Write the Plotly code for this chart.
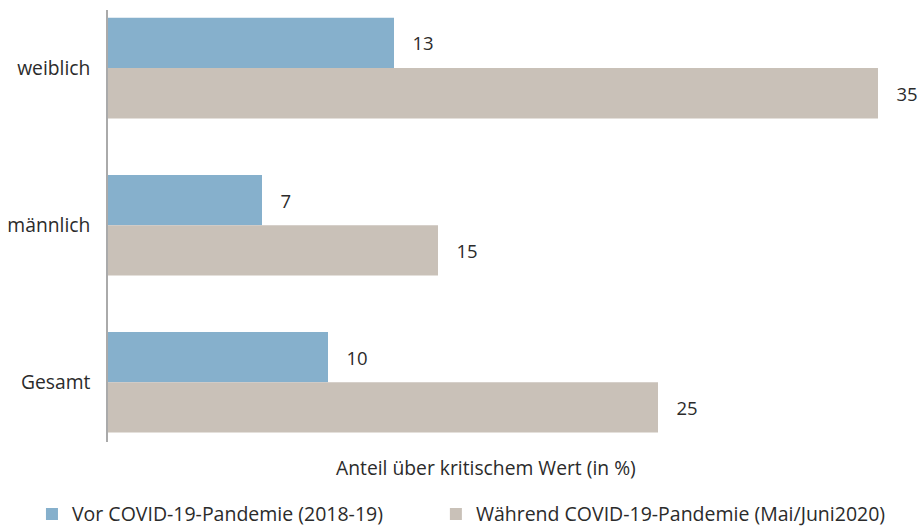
import plotly.graph_objects as go

categories = ["weiblich", "männlich", "Gesamt"]
vor_values = [13, 7, 10]
waehrend_values = [35, 15, 25]
series_names = ["Vor COVID-19-Pandemie (2018-19)", "Während COVID-19-Pandemie (Mai/Juni2020)"]
axis_title = "Anteil über kritischem Wert (in %)"

BLUE = "#86b0cc"
BEIGE = "#c9c1b8"
FONT = "Open Sans"
TXT = "#2b2b2b"
FS = 19.3

fig = go.Figure()
for name, vals, col, lg in [(series_names[0], vor_values, BLUE, "legend"),
                            (series_names[1], waehrend_values, BEIGE, "legend2")]:
    fig.add_trace(go.Bar(
        y=categories, x=vals, orientation="h", name=name, legend=lg,
        marker=dict(color=col, line=dict(width=0)),
        text=vals, texttemplate="\u2002\u2009\u2009%{x}", textposition="outside",
        textfont=dict(size=18.5, color=TXT, family=FONT),
        cliponaxis=False,
    ))

fig.add_annotation(text=axis_title, x=17.2, xref="x", y=-0.023, yref="paper",
                   yanchor="top", showarrow=False,
                   font=dict(size=FS, color=TXT, family=FONT))

legend_style = dict(orientation="h", xanchor="left", y=-0.122, yanchor="top",
                    font=dict(size=19.5, color=TXT, family=FONT), itemwidth=30,
                    bgcolor="rgba(0,0,0,0)")

fig.update_layout(
    width=921, height=528,
    margin=dict(l=108, r=21, t=10, b=86, autoexpand=False),
    plot_bgcolor="white", paper_bgcolor="white",
    barmode="group", bargap=0.36, bargroupgap=0,
    font=dict(family=FONT, size=FS, color=TXT),
    showlegend=True,
    legend=dict(x=-0.096, **legend_style),
    legend2=dict(x=0.414, **legend_style),
    xaxis=dict(range=[0, 36], showgrid=False, zeroline=False, showticklabels=False,
               showline=False, fixedrange=True, automargin=False),
    yaxis=dict(categoryorder="array", categoryarray=categories,
               range=[2.38, -0.37], showgrid=False, zeroline=False,
               showline=True, linecolor="#aaaaaa", linewidth=1.5,
               ticks="", ticklabelstandoff=12, automargin=False,
               tickfont=dict(size=FS, color=TXT, family=FONT)),
)

fig.write_html("out.html",
               config={"displayModeBar": False},
               post_script="document.body.style.margin='0';document.body.style.overflow='hidden';")
